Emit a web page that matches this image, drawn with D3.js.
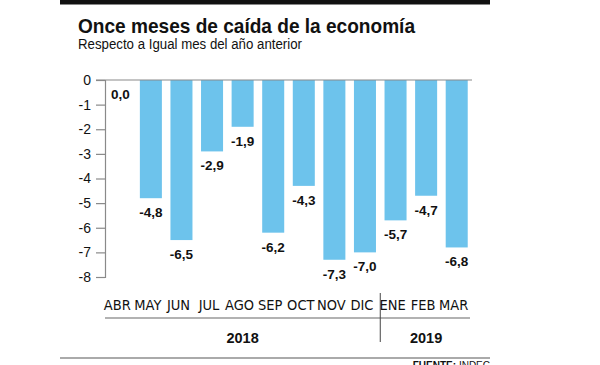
<!DOCTYPE html>
<html>
<head>
<meta charset="utf-8">
<script src="https://cdn.jsdelivr.net/npm/d3@7"></script>
<style>
  body { margin: 0; background: #fff; }
  text { font-family: "Liberation Sans", Arial, sans-serif; fill: #111; }
  .narrow { font-family: "Liberation Sans Narrow", "DejaVu Sans Condensed", "Liberation Sans", sans-serif; }
</style>
</head>
<body>
<script>
const months = ['ABR', 'MAY', 'JUN', 'JUL', 'AGO', 'SEP', 'OCT', 'NOV', 'DIC', 'ENE', 'FEB', 'MAR'];
const values = [0.0, -4.8, -6.5, -2.9, -1.9, -6.2, -4.3, -7.3, -7.0, -5.7, -4.7, -6.8];
const yTicks = [0, -1, -2, -3, -4, -5, -6, -7, -8];
const years = [
    {label: '2018', from: 'ABR', to: 'DIC'},
    {label: '2019', from: 'ENE', to: 'MAR'}
];
const title = 'Once meses de caída de la economía';
const subtitle = 'Respecto a Igual mes del año anterior';

const width = 600;
const height = 365;
const barColor = '#6dc3ec';
const axisColor = '#8a8a8a';

const svg = d3.select('body')
    .append('svg')
    .attr('width', width)
    .attr('height', height);

// top black rule
svg.append('rect')
    .attr('x', 60).attr('y', 0)
    .attr('width', 430).attr('height', 4.5)
    .attr('fill', '#111');

svg.append('text')
    .attr('x', 78).attr('y', 33)
    .style('font-size', '21px')
    .style('font-weight', 'bold')
    .attr('textLength', 337)
    .attr('lengthAdjust', 'spacingAndGlyphs')
    .text(title);

svg.append('text')
    .attr('x', 78).attr('y', 49)
    .style('font-size', '14px')
    .attr('textLength', 224)
    .attr('lengthAdjust', 'spacingAndGlyphs')
    .text(subtitle);

const x = d3.scaleBand()
    .domain(months)
    .range([105, 472])
    .paddingInner(0.28)
    .paddingOuter(0.14);

const y = d3.scaleLinear()
    .domain([-8, 0])
    .range([277, 80]);

// y axis
const yAxis = d3.axisLeft(y)
    .tickValues(yTicks)
    .tickSize(9)
    .tickPadding(5)
    .tickFormat(d3.format('d'));

const gy = svg.append('g')
    .attr('transform', 'translate(105,0)')
    .call(yAxis);
gy.select('.domain').attr('stroke', axisColor).attr('stroke-width', 1.2);
gy.selectAll('.tick line').attr('stroke', axisColor).attr('stroke-width', 1.2);
gy.selectAll('.tick text')
    .style('font-size', '14px')
    .style('font-family', '"Liberation Sans", Arial, sans-serif')
    .attr('fill', '#1a1a1a')
    .text(d => String(d).replace('−', '-'));

// bars
svg.selectAll('rect.bar')
    .data(values)
    .enter()
    .append('rect')
    .attr('class', 'bar')
    .attr('x', (d, i) => x(months[i]))
    .attr('y', y(0))
    .attr('width', x.bandwidth())
    .attr('height', d => y(d) - y(0))
    .attr('fill', barColor);

// zero line
svg.append('line')
    .attr('x1', 96).attr('x2', 472)
    .attr('y1', y(0)).attr('y2', y(0))
    .attr('stroke', axisColor)
    .attr('stroke-width', 1.2);

// value labels
svg.selectAll('text.val')
    .data(values)
    .enter()
    .append('text')
    .attr('class', 'val')
    .attr('x', (d, i) => x(months[i]) + x.bandwidth() / 2)
    .attr('y', d => y(d) + 19)
    .attr('text-anchor', 'middle')
    .style('font-size', '13.5px')
    .style('font-weight', 'bold')
    .text(d => d3.format('.1f')(d).replace('.', ',').replace('−', '-'));

// month labels
svg.selectAll('text.month')
    .data(months)
    .enter()
    .append('text')
    .attr('class', 'month narrow')
    .attr('x', d => x(d) + x.bandwidth() / 2 - 3)
    .attr('y', 309.5)
    .attr('text-anchor', 'middle')
    .style('font-size', '14.5px')
    .text(d => d);

// rule under months
svg.append('line')
    .attr('x1', 105).attr('x2', 470)
    .attr('y1', 318).attr('y2', 318)
    .attr('stroke', '#999')
    .attr('stroke-width', 1.5);

// year divider
const divX = (x('DIC') + x.bandwidth() + x('ENE')) / 2;
svg.append('line')
    .attr('x1', divX).attr('x2', divX)
    .attr('y1', 293).attr('y2', 342)
    .attr('stroke', '#444')
    .attr('stroke-width', 1);

svg.selectAll('text.year')
    .data(years)
    .enter()
    .append('text')
    .attr('class', 'year')
    .attr('x', d => {
        const a = d.from === 'ABR' ? 105 : divX;
        const b = d.to === 'MAR' ? 472 : divX;
        return (a + b) / 2;
    })
    .attr('y', 343)
    .attr('text-anchor', 'middle')
    .style('font-size', '14.5px')
    .style('font-weight', 'bold')
    .text(d => d.label);

// bottom rule and source
svg.append('rect')
    .attr('x', 60).attr('y', 357)
    .attr('width', 430).attr('height', 2)
    .attr('fill', '#aaa');

const src = svg.append('text')
    .attr('x', 490).attr('y', 369)
    .attr('text-anchor', 'end')
    .style('font-size', '10px');
src.append('tspan').style('font-weight', 'bold').text('FUENTE: ');
src.append('tspan').text('INDEC');
</script>
</body>
</html>
